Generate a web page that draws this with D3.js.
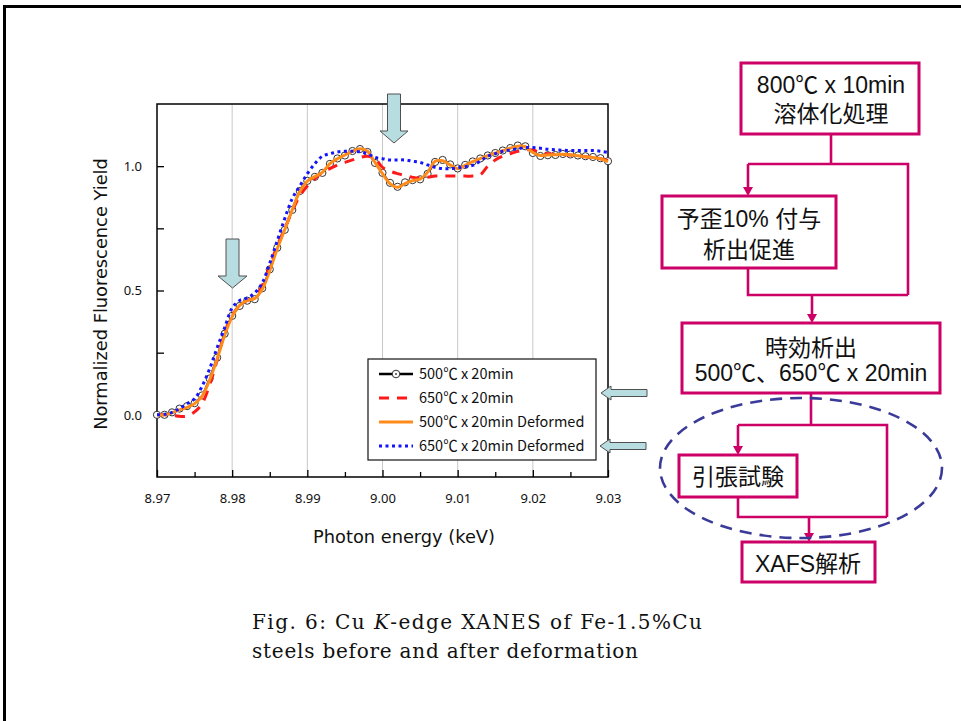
<!DOCTYPE html>
<html><head><meta charset="utf-8">
<script src="https://cdn.jsdelivr.net/npm/d3@7"></script>
<style>body{margin:0;background:#fff}svg{display:block}</style>
</head><body>
<svg id="c" width="961" height="721"></svg>
<script>
// ---------------- data ----------------
const energy = [8.970,8.971,8.972,8.973,8.974,8.975,8.976,8.977,8.978,8.979,
  8.980,8.981,8.982,8.983,8.984,8.985,8.986,8.987,8.988,8.989,
  8.990,8.991,8.992,8.993,8.994,8.995,8.996,8.997,8.998,8.999,
  9.000,9.001,9.002,9.003,9.004,9.005,9.006,9.007,9.008,9.009,
  9.010,9.011,9.012,9.013,9.014,9.015,9.016,9.017,9.018,9.019,
  9.020,9.021,9.022,9.023,9.024,9.025,9.026,9.027,9.028,9.029,9.030];
const s500 = [0.00,0.00,0.01,0.025,0.035,0.047,0.078,0.146,0.23,0.326,
  0.398,0.438,0.459,0.465,0.509,0.585,0.672,0.744,0.824,0.90,
  0.941,0.957,0.973,1.009,1.031,1.043,1.061,1.069,1.057,1.013,
  0.973,0.933,0.917,0.935,0.944,0.947,0.969,1.017,1.025,1.007,
  0.991,1.005,1.019,1.031,1.043,1.053,1.063,1.073,1.083,1.080,
  1.053,1.041,1.044,1.045,1.049,1.047,1.043,1.040,1.037,1.032,1.020];
const s650 = [0.00,0.00,-0.002,-0.006,-0.005,0.012,0.045,0.12,0.22,0.33,
  0.40,0.44,0.46,0.47,0.52,0.60,0.68,0.75,0.82,0.88,
  0.92,0.95,0.975,0.99,1.005,1.015,1.025,1.035,1.04,1.03,
  0.995,0.98,0.97,0.962,0.955,0.952,0.955,0.96,0.96,0.96,
  0.96,0.96,0.96,0.965,1.0,1.025,1.04,1.05,1.06,1.065,
  1.065,1.055,1.05,1.048,1.047,1.045,1.042,1.038,1.035,1.03,1.022];
const s500d = [0.00,0.00,0.008,0.02,0.03,0.045,0.075,0.14,0.225,0.32,
  0.395,0.44,0.46,0.468,0.505,0.58,0.668,0.745,0.825,0.898,
  0.94,0.958,0.975,1.01,1.03,1.045,1.06,1.07,1.06,1.015,
  0.97,0.93,0.915,0.93,0.942,0.948,0.975,1.02,1.022,1.005,
  0.99,1.003,1.018,1.03,1.042,1.052,1.062,1.072,1.08,1.078,
  1.055,1.043,1.045,1.046,1.048,1.046,1.042,1.038,1.035,1.03,1.018];
const s650d = [0.00,0.002,0.01,0.025,0.045,0.065,0.115,0.185,0.27,0.35,
  0.43,0.46,0.47,0.49,0.53,0.61,0.70,0.79,0.87,0.92,
  0.97,1.01,1.04,1.05,1.057,1.06,1.06,1.058,1.05,1.035,
  1.03,1.025,1.025,1.025,1.02,1.015,1.005,0.995,0.99,0.99,
  0.993,0.998,1.003,1.02,1.04,1.05,1.06,1.065,1.07,1.075,
  1.075,1.072,1.068,1.066,1.064,1.063,1.063,1.063,1.063,1.06,1.055];
const seriesNames = ["500℃ x 20min","650℃ x 20min","500℃ x 20min Deformed","650℃ x 20min Deformed"];
const xTicks = [8.97,8.98,8.99,9.00,9.01,9.02,9.03];
const xMinor = [8.975,8.985,8.995,9.005,9.015,9.025];
const yTicks = [0.0,0.5,1.0];
const yMinor = [0.25,0.75];
const xTitle = "Photon energy (keV)";
const yTitle = "Normalized Fluorescence Yield";
const flowText = [["800℃ x 10min","溶体化処理"],["予歪10% 付与","析出促進"],["時効析出","500℃、650℃ x 20min"],["引張試験"],["XAFS解析"]];

// ---------------- drawing ----------------
const svg = d3.select("#c");
const FONT = "'Noto Sans','Noto Sans CJK JP',sans-serif";
const TFONT = "'DejaVu Sans','Noto Sans',sans-serif";
const LFONT = "'Noto Sans CJK JP','Noto Sans',sans-serif";
svg.append("path").attr("d","M4.5,721V6.5H961").attr("fill","none").attr("stroke","#000").attr("stroke-width",3);

const x = d3.scaleLinear().domain([8.97,9.03]).range([157,608]);
const y = d3.scaleLinear().domain([-0.25,1.25]).range([477,104]);

// grid
svg.append("g").selectAll("line").data(xTicks.slice(1,-1)).join("line")
  .attr("x1",d=>x(d)).attr("x2",d=>x(d)).attr("y1",y(-0.25)).attr("y2",y(1.25))
  .attr("stroke","#c8c8c8").attr("stroke-width",1);

function styleAxis(g){ g.select(".domain").remove(); g.attr("font-family",FONT).attr("font-size",13);
  g.selectAll("line").attr("stroke","#000").attr("stroke-width",1.3); g.selectAll("text").attr("fill","#111"); }

svg.append("g").attr("transform",`translate(0,${y(-0.25)})`)
  .call(d3.axisBottom(x).tickValues(xTicks).tickFormat(d3.format(".2f")).tickSize(-7).tickPadding(17)).call(styleAxis);
svg.append("g").attr("transform",`translate(0,${y(-0.25)})`)
  .call(d3.axisBottom(x).tickValues(xMinor).tickFormat("").tickSize(-5)).call(styleAxis);
svg.append("g").attr("transform",`translate(${x(8.97)},0)`)
  .call(d3.axisLeft(y).tickValues(yTicks).tickFormat(d3.format(".1f")).tickSize(-7).tickPadding(15)).call(styleAxis);
svg.append("g").attr("transform",`translate(${x(8.97)},0)`)
  .call(d3.axisLeft(y).tickValues(yMinor).tickFormat("").tickSize(-7)).call(styleAxis);

// frame
svg.append("rect").attr("x",x(8.97)).attr("y",y(1.25)).attr("width",x(9.03)-x(8.97)).attr("height",y(-0.25)-y(1.25))
  .attr("fill","none").attr("stroke","#000").attr("stroke-width",1.5);

// titles
svg.append("text").attr("x",404).attr("y",543).attr("text-anchor","middle").attr("font-family",TFONT)
  .attr("font-size",17.8).attr("fill","#111").text(xTitle);
svg.append("text").attr("transform","translate(107,294) rotate(-90)").attr("text-anchor","middle").attr("font-family",TFONT)
  .attr("font-size",17.8).attr("fill","#111").text(yTitle);

// series
const line = vals => d3.line().x((d,i)=>x(energy[i])).y(d=>y(d)).curve(d3.curveCatmullRom.alpha(0.5))(vals);
const plot = svg.append("g");
plot.append("path").attr("d",line(s500)).attr("fill","none").attr("stroke","#000").attr("stroke-width",2.2);
plot.append("g").selectAll("circle").data(s500).join("circle")
  .attr("cx",(d,i)=>x(energy[i])).attr("cy",d=>y(d)).attr("r",3.6)
  .attr("fill","#fff").attr("stroke","#333").attr("stroke-width",1);
plot.append("path").attr("d",line(s650)).attr("fill","none").attr("stroke","#ff1a1a").attr("stroke-width",3).attr("stroke-dasharray","10,8");
plot.append("path").attr("d",line(s500d)).attr("fill","none").attr("stroke","#ff8c1a").attr("stroke-width",3);
plot.append("path").attr("d",line(s650d)).attr("fill","none").attr("stroke","#1414ff").attr("stroke-width",3).attr("stroke-dasharray","3,3.5");

// legend
const lg = svg.append("g");
lg.append("rect").attr("x",368).attr("y",359).attr("width",228).attr("height",101).attr("fill","#fff").attr("stroke","#111").attr("stroke-width",1.2);
const legStyles = [
  {c:"#000",w:2.6,dash:null,marker:true},
  {c:"#ff1a1a",w:3,dash:"10,8",marker:false},
  {c:"#ff8c1a",w:3,dash:null,marker:false},
  {c:"#1414ff",w:3,dash:"3,3.5",marker:false}];
seriesNames.forEach((n,i)=>{
  const yy = 374 + i*24, s = legStyles[i];
  lg.append("line").attr("x1",379).attr("x2",413).attr("y1",yy).attr("y2",yy)
    .attr("stroke",s.c).attr("stroke-width",s.w).attr("stroke-dasharray",s.dash);
  if(s.marker){
    lg.append("circle").attr("cx",396).attr("cy",yy).attr("r",3.8).attr("fill","#fff").attr("stroke","#333").attr("stroke-width",1);
    lg.append("circle").attr("cx",396).attr("cy",yy).attr("r",0.9).attr("fill","#333");
  }
  lg.append("text").attr("x",419).attr("y",yy).attr("dy","0.36em").attr("font-family",LFONT).attr("font-size",14.5).attr("fill","#111").text(n);
});

// light-blue arrows
function arrow(tx,ty,dir,len,shw,hhw,hl){
  let p;
  if(dir==="down") p=[[tx,ty],[tx-hhw,ty-hl],[tx-shw,ty-hl],[tx-shw,ty-len],[tx+shw,ty-len],[tx+shw,ty-hl],[tx+hhw,ty-hl]];
  else p=[[tx,ty],[tx+hl,ty-hhw],[tx+hl,ty-shw],[tx+len,ty-shw],[tx+len,ty+shw],[tx+hl,ty+shw],[tx+hl,ty+hhw]];
  svg.append("path").attr("d","M"+p.map(q=>q.join(",")).join("L")+"Z").attr("fill","#b7dde1").attr("stroke","#505050").attr("stroke-width",1);
}
arrow(394,143,"down",49,6.5,14,12);
arrow(232.5,288,"down",49,6.5,14.5,12);
arrow(601,393,"left",46,3.5,7,10);
arrow(600,446,"left",46,3.5,7,10);

// flowchart
const MAG = "#cc0066";
const fc = svg.append("g");
const FF = "'Liberation Sans','Noto Sans CJK JP',sans-serif";
const boxes = [
  {x:741,y:63,w:178,h:71,cx:831,ly:[85,114]},
  {x:662,y:196,w:174,h:72,cx:749,ly:[219,250]},
  {x:682,y:323,w:258,h:70,cx:811,ly:[348,373]},
  {x:679,y:455,w:118,h:42,cx:738,ly:[477]},
  {x:742,y:542,w:133,h:40,cx:808,ly:[564]}];
const conn = [
  "M831,134V164", "M748,164H908V295", "M748,164V188",
  "M748,268V295H908", "M812,295V316",
  "M811,393V425", "M738,425H887V517", "M738,425V447",
  "M738,497V517H887", "M809,517V534"];
conn.forEach(d=>fc.append("path").attr("d",d).attr("fill","none").attr("stroke",MAG).attr("stroke-width",2.6));
[[748,196],[812,323],[738,455],[809,542]].forEach(([ax,ay])=>{
  fc.append("path").attr("d",`M${ax-5},${ay-9}L${ax+5},${ay-9}L${ax},${ay}Z`).attr("fill",MAG);
});
svg.append("ellipse").attr("cx",801).attr("cy",468).attr("rx",141).attr("ry",70)
  .attr("fill","none").attr("stroke","#3a3a98").attr("stroke-width",2.6).attr("stroke-dasharray","12,8");
boxes.forEach((b,i)=>{
  fc.append("rect").attr("x",b.x).attr("y",b.y).attr("width",b.w).attr("height",b.h)
    .attr("fill","#fff").attr("stroke",MAG).attr("stroke-width",3);
  flowText[i].forEach((t,j)=>{
    fc.append("text").attr("x",b.cx).attr("y",b.ly[j]).attr("dy","0.36em").attr("text-anchor","middle")
      .attr("font-family",FF).attr("font-size",23).attr("fill","#111").text(t);
  });
});

// caption
const cap = svg.append("g").attr("font-family","'DejaVu Serif','Liberation Serif',serif").attr("font-size",20).attr("fill","#111");
const t1 = cap.append("text").attr("x",252).attr("y",629).attr("textLength",450).attr("lengthAdjust","spacing");
t1.append("tspan").text("Fig. 6: Cu ");
t1.append("tspan").attr("font-style","italic").text("K");
t1.append("tspan").text("-edge XANES of Fe-1.5%Cu");
cap.append("text").attr("x",252).attr("y",658).attr("textLength",386).attr("lengthAdjust","spacing").text("steels before and after deformation");
</script>
</body></html>
